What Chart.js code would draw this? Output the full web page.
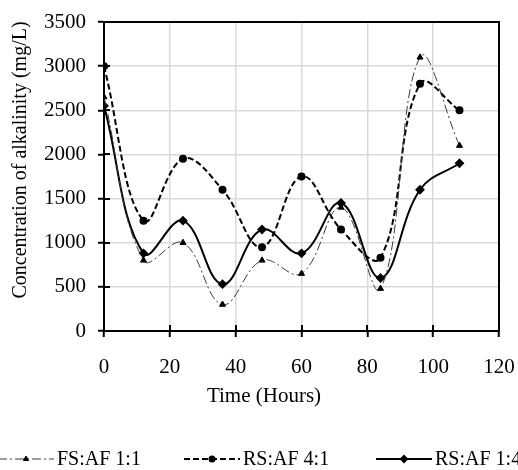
<!DOCTYPE html>
<html><head><meta charset="utf-8">
<script src="https://cdn.jsdelivr.net/npm/chart.js@4.4.1/dist/chart.umd.min.js"></script>
<style>html,body{margin:0;padding:0;background:#fff;overflow:hidden}#wrap{width:518px;height:470px;position:relative}</style>
</head><body><div id="wrap"><canvas id="c" width="518" height="470"></canvas></div>
<script>
const hours = [0, 12, 24, 36, 48, 60, 72, 84, 96, 108];
const fsAf11 = [2650, 800, 1000, 300, 800, 650, 1400, 480, 3100, 2100];
const rsAf41 = [3000, 1250, 1950, 1600, 950, 1750, 1150, 830, 2800, 2500];
const rsAf14 = [2550, 880, 1250, 530, 1150, 880, 1450, 600, 1600, 1900];
const seriesLabels = ['FS:AF 1:1', 'RS:AF 4:1', 'RS:AF 1:4'];
const xTicks = [0, 20, 40, 60, 80, 100, 120];
const yTicks = [0, 500, 1000, 1500, 2000, 2500, 3000, 3500];
const xTitle = 'Time (Hours)';
const yTitle = 'Concentration of alkalinity (mg/L)';

const FONT = "'Liberation Serif', 'Times New Roman', serif";

function pts(vals) { return hours.map((h, i) => ({x: h, y: vals[i]})); }

const framePlugin = {
  id: 'frame',
  beforeDatasetsDraw(chart) {
    const {ctx, chartArea: a, scales} = chart;
    ctx.save();
    ctx.strokeStyle = '#000';
    ctx.lineWidth = 2;
    ctx.strokeRect(a.left, a.top, a.right - a.left, a.bottom - a.top);
    ctx.beginPath();
    scales.y.ticks.forEach(t => {
      const y = Math.round(scales.y.getPixelForValue(t.value));
      ctx.moveTo(a.left, y); ctx.lineTo(a.left + 6, y);
    });
    scales.x.ticks.forEach(t => {
      const x = Math.round(scales.x.getPixelForValue(t.value));
      ctx.moveTo(x, a.bottom); ctx.lineTo(x, a.bottom - 6);
    });
    ctx.stroke();
    ctx.restore();
  },
  afterDraw(chart) {
    const {ctx} = chart;
    ctx.save();
    ctx.fillStyle = '#000';
    ctx.textAlign = 'center';
    ctx.textBaseline = 'middle';
    ctx.font = '21px ' + FONT;
    ctx.fillText(xTitle, 264, 396);
    ctx.save();
    ctx.font = '20px ' + FONT;
    ctx.translate(21, 160);
    ctx.rotate(-Math.PI / 2);
    ctx.fillText(yTitle, 0, 0);
    ctx.restore();
    // legend
    const starts = [-2, 184, 376];
    const ly = 459;
    chart.data.datasets.forEach((ds, i) => {
      const x0 = starts[i], x1 = x0 + 56;
      ctx.save();
      ctx.strokeStyle = ds.borderColor;
      ctx.lineWidth = ds.borderWidth;
      ctx.setLineDash(ds.borderDash || []);
      ctx.beginPath();
      ctx.moveTo(x0, ly); ctx.lineTo(x1, ly);
      ctx.stroke();
      ctx.setLineDash([]);
      ctx.fillStyle = ds.pointBackgroundColor;
      ctx.strokeStyle = ds.pointBorderColor;
      Chart.helpers.drawPoint(ctx, {pointStyle: ds.pointStyle, radius: ds.pointRadius - 0.5, rotation: 0, borderWidth: 1}, x0 + 28, ly);
      ctx.restore();
      ctx.fillStyle = '#000';
      ctx.textAlign = 'left';
      ctx.font = '20px ' + FONT;
      ctx.fillText(ds.label, x1 + 3, ly + 1);
    });
    ctx.restore();
  }
};

new Chart(document.getElementById('c'), {
  type: 'line',
  data: {
    datasets: [
      {label: seriesLabels[0], data: pts(fsAf11), borderColor: '#3a3a3a', borderWidth: 1, borderDash: [9, 3, 2, 3],
       pointStyle: 'triangle', pointRadius: 3.5, pointBackgroundColor: '#000', pointBorderColor: '#000', tension: 0.4},
      {label: seriesLabels[1], data: pts(rsAf41), borderColor: '#000', borderWidth: 2, borderDash: [6, 3],
       pointStyle: 'circle', pointRadius: 3, pointBackgroundColor: '#000', pointBorderColor: '#000', tension: 0.4},
      {label: seriesLabels[2], data: pts(rsAf14), borderColor: '#000', borderWidth: 2,
       pointStyle: 'rectRot', pointRadius: 3.5, pointBackgroundColor: '#000', pointBorderColor: '#000', tension: 0.4}
    ]
  },
  options: {
    responsive: false,
    animation: false,
    devicePixelRatio: 1,
    layout: {padding: {top: 22, right: 19, left: 0, bottom: 0}},
    plugins: {legend: {display: false}, tooltip: {enabled: false}},
    scales: {
      x: {
        type: 'linear', min: 0, max: 120,
        afterBuildTicks: s => { s.ticks = xTicks.map(v => ({value: v})); },
        afterFit: s => { s.height = 139; s.paddingLeft = 0; s.paddingRight = 0; },
        grid: {color: '#d9d9d9', lineWidth: 1.5, tickColor: '#000', tickLength: 6, tickWidth: 2},
        border: {color: '#000', width: 2},
        ticks: {color: '#000', font: {family: FONT, size: 21}, padding: 18, maxRotation: 0, callback: v => String(v)}
      },
      y: {
        min: 0, max: 3500,
        afterBuildTicks: s => { s.ticks = yTicks.map(v => ({value: v})); },
        afterFit: s => { s.width = 104; s.paddingTop = 0; s.paddingBottom = 0; },
        grid: {color: '#d9d9d9', lineWidth: 1.5, tickColor: '#000', tickLength: 6, tickWidth: 2},
        border: {color: '#000', width: 2},
        ticks: {color: '#000', font: {family: FONT, size: 21}, padding: 12, callback: v => String(v)}
      }
    }
  },
  plugins: [framePlugin]
});
</script></body></html>
